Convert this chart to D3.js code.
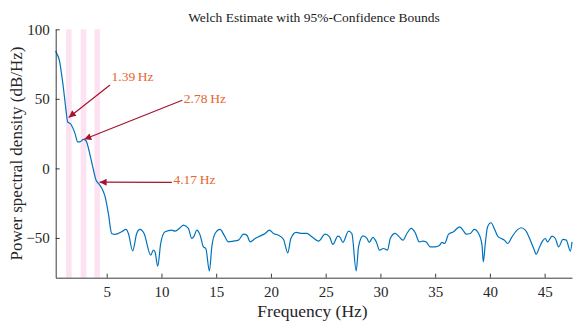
<!DOCTYPE html>
<html>
<head>
<meta charset="utf-8">
<script src="https://cdn.jsdelivr.net/npm/d3@7"></script>
<style>
  html, body { margin: 0; padding: 0; background: #fff; }
  svg { display: block; font-family: "Liberation Serif", "Times New Roman", serif; }
</style>
</head>
<body>
<svg id="chart" width="574" height="323"></svg>
<script>
// Welch PSD estimate (dB/Hz) sampled along frequency (Hz)
const freq = [
  0.34, 0.37, 0.67, 1.03, 1.28, 1.43, 1.71, 2.10, 2.35, 2.56, 2.86, 3.11, 3.41, 3.72,
  4.02, 4.32, 4.63, 4.84, 5.15, 5.45, 5.76, 6.37, 6.76, 6.98, 7.37, 7.74, 8.04, 8.41,
  9.02, 9.26, 9.41, 9.66, 9.93, 10.33, 10.94, 11.24, 11.70, 12.00, 12.46, 12.77, 12.98,
  13.22, 13.53, 13.83, 14.05, 14.38, 14.60, 14.90, 15.36, 15.72, 16.12, 16.57, 17.03,
  17.49, 17.80, 18.10, 18.56, 19.00, 19.47, 19.86, 20.23, 20.69, 21.15, 21.54, 21.82,
  22.30, 22.82, 23.28, 23.74, 24.35, 24.95, 25.35, 25.66, 26.11, 26.32, 26.57, 27.09,
  27.39, 27.79, 28.00, 28.40, 28.77, 28.98, 29.31, 29.62, 29.92, 30.28, 30.65, 30.90,
  31.35, 31.66, 32.06, 32.42, 32.82, 33.18, 33.55, 33.88, 34.16, 34.55, 35.00, 35.41,
  35.62, 35.86, 36.23, 36.68, 37.23, 37.54, 37.84, 38.21, 38.57, 38.97, 39.28, 39.40,
  39.58, 39.79, 40.10, 40.40, 40.71, 41.04, 41.32, 41.62, 42.02, 42.48, 42.84, 43.24,
  43.63, 44.00, 44.24, 44.45, 44.76, 45.06, 45.27, 45.68, 45.98, 46.28, 46.68, 46.98,
  47.35, 47.50
];
const psd = [
  84.5, 83.8, 77.9, 58.7, 41.9, 33.5, 31.9, 25.2, 19.1, 19.1, 20.9, 19.9, 11.9, 1.2,
  -8.4, -11.5, -15.5, -20.0, -32.4, -46.8, -47.5, -45.6, -43.9, -46.8, -59.3, -46.8, -43.9, -46.8,
  -62.4, -58.8, -60.0, -70.3, -54.0, -45.6, -44.4, -45.1, -42.7, -40.8, -43.2, -50.4, -48.7,
  -44.4, -48.0, -56.4, -57.6, -73.7, -56.4, -46.8, -43.9, -48.0, -52.8, -52.3, -51.6,
  -47.3, -48.0, -52.8, -50.4, -48.7, -46.8, -44.4, -46.8, -48.0, -51.1, -60.7, -50.4,
  -46.0, -46.8, -46.8, -49.2, -52.3, -47.3, -49.2, -54.7, -48.7, -49.6, -53.2, -45.1,
  -46.8, -73.7, -56.4, -48.5, -50.4, -53.2, -49.6, -52.8, -58.8, -57.6, -58.8, -50.4,
  -46.8, -48.7, -51.6, -46.8, -43.2, -46.3, -52.8, -52.3, -52.8, -56.4, -56.4, -55.2,
  -53.2, -54.0, -47.3, -45.6, -42.0, -44.4, -47.3, -46.8, -43.9, -46.8, -55.2, -67.2,
  -54.0, -42.0, -39.1, -43.2, -48.7, -50.4, -51.6, -54.0, -49.2, -44.4, -42.7, -44.4,
  -50.4, -57.6, -61.7, -58.3, -52.8, -50.4, -52.8, -48.7, -50.4, -56.4, -51.1, -51.6,
  -59.5, -52.8
];

// Harmonic peaks that are annotated
const peakFreqs = [1.39, 2.78, 4.17];
const peakLabels = ["1.39\u2009Hz", "2.78\u2009Hz", "4.17\u2009Hz"];
// Shaded frequency bands around the harmonics
const bandCenters = [1.54, 2.88, 4.13];
const bandWidth = 0.52;

const xTicks = [5, 10, 15, 20, 25, 30, 35, 40, 45];
const yTicks = [-50, 0, 50, 100];

const titleText = "Welch Estimate with 95%-Confidence Bounds";
const xLabel = "Frequency (Hz)";
const yLabel = "Power spectral density (dB/Hz)";

// Layout
const plot = { left: 55.7, right: 572, top: 29.3, bottom: 277.7 };
// Where each annotation arrow starts (data units) and label offset from it (px)
const arrowTails = [[5.30, 60.0], [11.90, 49.0], [10.95, -10.0]];
const labelOffsets = [[1.5, -3.5], [1.6, 2.5], [1.6, 2.2]];

const svg = d3.select("#chart");

const x = d3.scaleLinear().domain([0.34, 47.5]).range([plot.left, plot.right]);
const y = d3.scaleLinear().domain([-78.6, 100]).range([plot.bottom, plot.top]);

// Bands
svg.append("g").selectAll("rect")
  .data(bandCenters)
  .join("rect")
  .attr("x", d => x(d - bandWidth / 2))
  .attr("width", d => x(d + bandWidth / 2) - x(d - bandWidth / 2))
  .attr("y", plot.top)
  .attr("height", plot.bottom - plot.top)
  .attr("fill", "#fde3f1");

// PSD curve
const pts = freq.map((f, i) => [f, psd[i]]);
const line = d3.line()
  .x(d => x(d[0]))
  .y(d => y(d[1]))
  .curve(d3.curveMonotoneX);

svg.append("path")
  .datum(pts)
  .attr("d", line)
  .attr("fill", "none")
  .attr("stroke", "#0072BD")
  .attr("stroke-width", 1.2)
  .attr("stroke-linejoin", "round");

// Axes
const axisColor = "#262626";
const xAxis = d3.axisBottom(x).tickValues(xTicks).tickSizeInner(-4).tickSizeOuter(0).tickPadding(9);
const yAxis = d3.axisLeft(y).tickValues(yTicks).tickSizeInner(-4).tickSizeOuter(0).tickPadding(6);

const gx = svg.append("g").attr("transform", `translate(0,${plot.bottom})`).call(xAxis);
const gy = svg.append("g").attr("transform", `translate(${plot.left},0)`).call(yAxis);
[gx, gy].forEach(g => {
  g.select(".domain").attr("stroke", axisColor).attr("stroke-width", 0.9);
  g.selectAll(".tick line").attr("stroke", axisColor).attr("stroke-width", 0.9);
  g.selectAll(".tick text")
    .attr("fill", "#262626")
    .style("font-family", "'Liberation Serif', serif")
    .style("font-size", "15px");
});

// Title and axis labels
svg.append("text")
  .attr("x", 314).attr("y", 22)
  .attr("text-anchor", "middle")
  .attr("fill", "#1a1a1a")
  .style("font-size", "13.5px")
  .text(titleText);

svg.append("text")
  .attr("x", 312.5).attr("y", 317)
  .attr("text-anchor", "middle")
  .attr("fill", "#262626")
  .style("font-size", "17.5px")
  .text(xLabel);

svg.append("text")
  .attr("transform", `translate(22,${(plot.top + plot.bottom) / 2}) rotate(-90)`)
  .attr("text-anchor", "middle")
  .attr("fill", "#262626")
  .style("font-size", "17px")
  .text(yLabel);

// Annotation arrows pointing at the harmonics on the curve
const arrowColor = "#A2142F";
svg.append("defs").append("marker")
  .attr("id", "head")
  .attr("viewBox", "0 0 10 10")
  .attr("refX", 10).attr("refY", 5)
  .attr("markerUnits", "userSpaceOnUse")
  .attr("markerWidth", 9).attr("markerHeight", 7)
  .attr("orient", "auto")
  .append("path")
  .attr("d", "M0,0 L10,5 L0,10 Z")
  .attr("fill", arrowColor);

const interp = f => {
  const i = d3.bisectLeft(freq, f);
  const t = (f - freq[i - 1]) / (freq[i] - freq[i - 1]);
  return psd[i - 1] + t * (psd[i] - psd[i - 1]);
};

peakFreqs.forEach((f, i) => {
  const tx = x(f), ty = y(interp(f));
  const sx = x(arrowTails[i][0]), sy = y(arrowTails[i][1]);
  // stop the tip just short of the curve
  const dx = sx - tx, dy = sy - ty, len = Math.hypot(dx, dy);
  const ex = tx + dx / len * 2, ey = ty + dy / len * 2;
  svg.append("line")
    .attr("x1", sx).attr("y1", sy)
    .attr("x2", ex).attr("y2", ey)
    .attr("stroke", arrowColor)
    .attr("stroke-width", 1.2)
    .attr("marker-end", "url(#head)");
  svg.append("text")
    .attr("x", sx + labelOffsets[i][0])
    .attr("y", sy + labelOffsets[i][1])
    .attr("fill", "#E8642E")
    .style("font-size", "13.5px")
    .text(peakLabels[i]);
});
</script>
</body>
</html>
